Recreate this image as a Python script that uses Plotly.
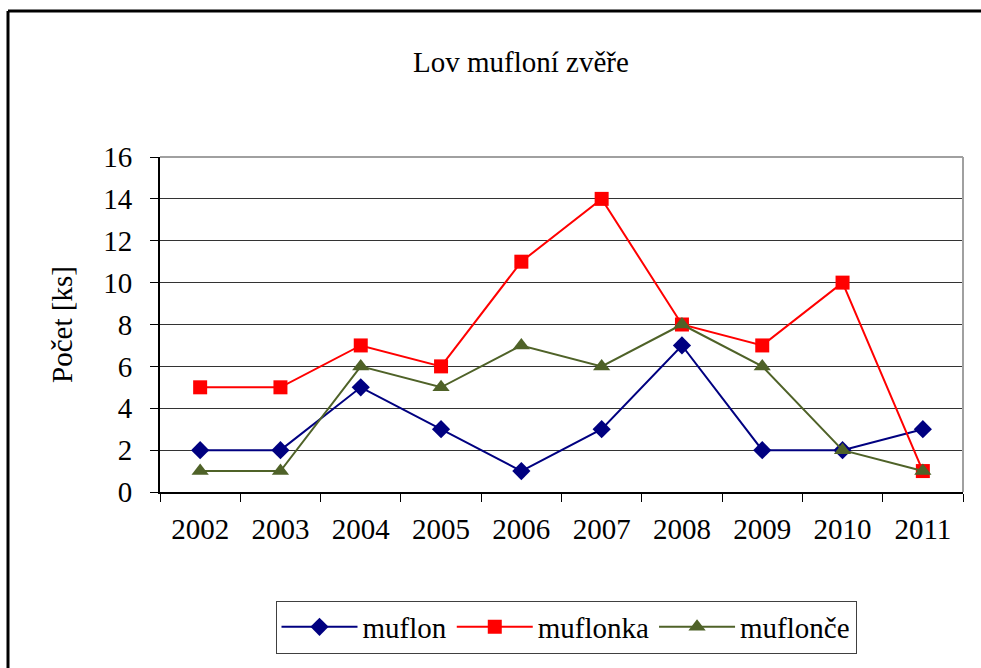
import plotly.graph_objects as go

years = ["2002", "2003", "2004", "2005", "2006", "2007", "2008", "2009", "2010", "2011"]
muflon = [2, 2, 5, 3, 1, 3, 7, 2, 2, 3]
muflonka = [5, 5, 7, 6, 11, 14, 8, 7, 10, 1]
muflonce = [1, 1, 6, 5, 7, 6, 8, 6, 2, 1]
y_ticks = [0, 2, 4, 6, 8, 10, 12, 14, 16]

FONT = "Liberation Serif"

fig = go.Figure()
fig.add_trace(go.Scatter(x=years, y=muflon, name="muflon", mode="lines+markers",
                         line=dict(color="#000080", width=2),
                         marker=dict(symbol="diamond", size=14, color="#000080")))
fig.add_trace(go.Scatter(x=years, y=muflonka, name="muflonka", mode="lines+markers",
                         line=dict(color="#FF0000", width=2),
                         marker=dict(symbol="square", size=14, color="#FF0000")))
fig.add_trace(go.Scatter(x=years, y=muflonce, name="muflonče", mode="lines+markers",
                         line=dict(color="#4F6228", width=2),
                         marker=dict(symbol="triangle-up", size=15, color="#4F6228")))

L, R, T, B = 160, 963, 157, 492
W, H = 981, 668
pw, ph = R - L, B - T

def px(x):
    return (x - L) / pw

def py(y):
    return (B - y) / ph

fig.update_layout(
    width=W, height=H,
    margin=dict(l=L, r=W - R, t=T, b=H - B, pad=0),
    paper_bgcolor="white", plot_bgcolor="white",
    font=dict(family=FONT, color="black", size=29),
    title=dict(text="Lov mufloní zvěře", x=px(521), xref="paper", xanchor="center",
               y=1 - 62 / H, yanchor="middle", font=dict(size=29, family=FONT)),
    xaxis=dict(type="category", range=[-0.5, 9.5], tickson="boundaries",
               ticks="outside", ticklen=8, tickcolor="black", tickwidth=1,
               showline=True, linecolor="black", linewidth=2,
               showgrid=False, tickfont=dict(size=29, family=FONT), fixedrange=True,
               ticklabelstandoff=10),
    yaxis=dict(range=[0, 16], tickvals=y_ticks, ticks="outside", ticklen=8,
               tickcolor="black", tickwidth=1,
               showline=True, linecolor="black", linewidth=2,
               showgrid=True, gridcolor="#333333", gridwidth=1,
               zeroline=False, tickfont=dict(size=29, family=FONT),
               ticklabelstandoff=12,
               title=dict(text="Počet [ks]", font=dict(size=29, family=FONT), standoff=22)),
    legend=dict(orientation="h", x=px(566), xanchor="center", y=py(627), yanchor="middle",
                bordercolor="#404040", borderwidth=1, bgcolor="white",
                font=dict(size=29, family=FONT), itemwidth=76, tracegroupgap=0),
    showlegend=True,
    shapes=[
        dict(type="line", xref="paper", yref="paper", x0=0, x1=1, y0=1, y1=1,
             line=dict(color="#A0A0A0", width=2), layer="above"),
        dict(type="line", xref="paper", yref="paper", x0=1, x1=1, y0=0, y1=1,
             line=dict(color="#A0A0A0", width=2), layer="above"),
        dict(type="line", xref="paper", yref="paper", x0=px(8), x1=px(990), y0=py(11), y1=py(11),
             line=dict(color="black", width=3), layer="above"),
        dict(type="line", xref="paper", yref="paper", x0=px(8), x1=px(8), y0=py(11), y1=py(680),
             line=dict(color="black", width=3), layer="above"),
    ],
)

fig.write_html("out.html", config={"displayModeBar": False},
               post_script="document.body.style.margin='0';document.body.style.padding='0';")
